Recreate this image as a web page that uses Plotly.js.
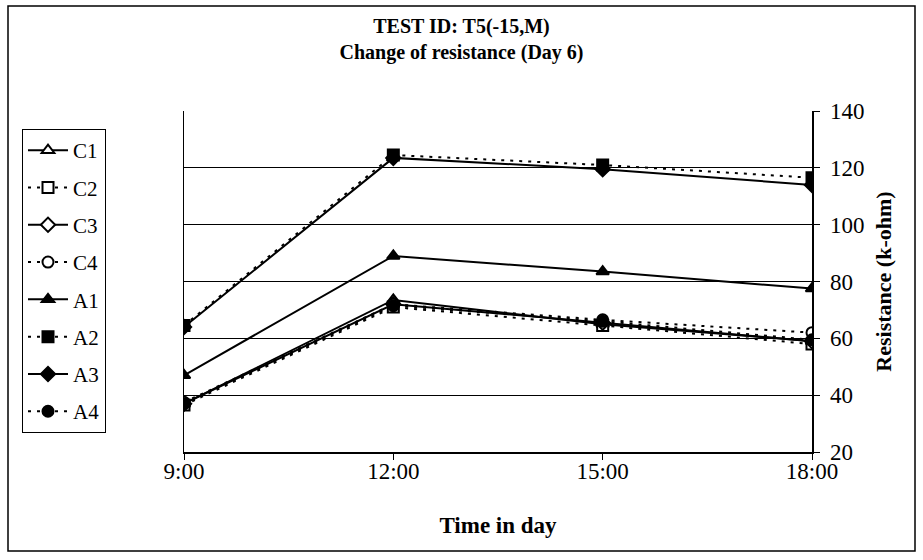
<!DOCTYPE html>
<html>
<head>
<meta charset="utf-8">
<script src="https://cdn.plot.ly/plotly-3.0.1.min.js"></script>
<style>html,body{margin:0;padding:0;background:#fff;}#chart{width:923px;height:560px;}</style>
</head>
<body>
<div id="chart"></div>
<script>
const times = ['9:00', '12:00', '15:00', '18:00'];
const seriesNames = ['C1', 'C2', 'C3', 'C4', 'A1', 'A2', 'A3', 'A4'];
const C1 = [37, 73.5, 65, 59];
const C2 = [36.5, 71, 64.5, 58];
const C3 = [37, 72, 65.5, 59];
const C4 = [37.5, 72, 66.5, 62];
const A1 = [47, 89, 83.5, 77.5];
const A2 = [64.5, 124.5, 121, 116.5];
const A3 = [64, 123.5, 119.5, 114];
const A4 = [37, 71.5, 66, 59.5];
const values = [C1, C2, C3, C4, A1, A2, A3, A4];
const symbols = ['triangle-up', 'square', 'diamond', 'circle', 'triangle-up', 'square', 'diamond', 'circle'];
const filled = [false, false, false, false, true, true, true, true];
const dashes = ['solid', 'dot', 'solid', 'dot', 'solid', 'dot', 'solid', 'dot'];

const traces = seriesNames.map((n, i) => ({
  x: times, y: values[i], name: n, type: 'scatter', mode: 'lines+markers',
  legendgroup: n,
  line: {color: '#000', width: 2, dash: dashes[i] === 'dot' ? '3px,6px' : 'solid'},
  marker: {symbol: symbols[i], size: 11, color: filled[i] ? '#000' : '#fff', line: {color: '#000', width: 2}}
}));

const L = 184, R = 812, T = 111, B = 452, W = 923, H = 560;
const pw = R - L, ph = B - T;
const px = v => (v - L) / pw;
const py = v => (B - v) / ph;

const layout = {
  width: W, height: H,
  margin: {l: L, r: W - R, t: T, b: H - B, pad: 0},
  paper_bgcolor: '#fff', plot_bgcolor: '#fff',
  font: {family: 'Liberation Serif, Times New Roman, serif', size: 20, color: '#000'},
  title: {text: '<b>TEST ID: T5(-15,M)</b><br><b>Change of resistance (Day 6)</b>',
          x: 0.5, xref: 'container', y: 1 - 33 / H, yref: 'container', yanchor: 'top',
          font: {family: 'Liberation Serif, serif', size: 20, color: '#000'}},
  xaxis: {type: 'category', categoryarray: times, range: [0, 3], showgrid: false,
          showline: true, linecolor: '#000', linewidth: 1.5, ticks: 'outside', ticklen: 6, tickcolor: '#000',
          ticklabelstandoff: -8,
          zeroline: false, automargin: false,
          tickfont: {size: 23},
          title: {text: '<b>Time in day</b>', standoff: 34, font: {size: 23}}},
  yaxis: {side: 'right', range: [20, 140], dtick: 20, showgrid: true, gridcolor: '#000', gridwidth: 1,
          showline: true, mirror: true, linecolor: '#000', linewidth: 1.5, ticks: 'outside', ticklen: 6, tickcolor: '#000',
          ticklabelstandoff: 6,
          zeroline: false, automargin: false,
          tickfont: {size: 23},
          title: {text: '<b>Resistance (k-ohm)</b>', standoff: 12, font: {size: 22}}},
  showlegend: true,
  legend: {x: px(22), xanchor: 'left', y: py(129), yanchor: 'top',
           bordercolor: '#000', borderwidth: 1, bgcolor: '#fff',
           traceorder: 'grouped', tracegroupgap: 7,
           font: {size: 21}, itemwidth: 40},
  shapes: [{type: 'rect', xref: 'paper', yref: 'paper', x0: px(8), x1: px(915), y0: py(551), y1: py(6),
            line: {color: '#000', width: 1.5}, fillcolor: 'rgba(0,0,0,0)', layer: 'below'}]
};

Plotly.newPlot('chart', traces, layout, {displayModeBar: false, staticPlot: true});
</script>
</body>
</html>
